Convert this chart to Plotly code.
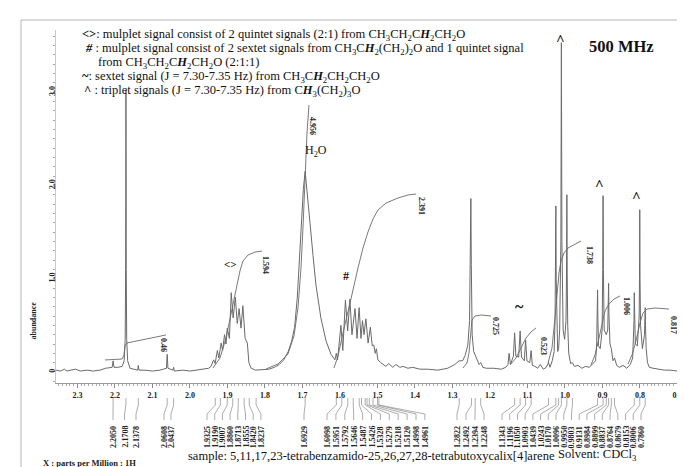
import plotly.graph_objects as go

# ---------------- data ----------------
SPEC_PPM = [
    2.357, 2.345, 2.335, 2.328, 2.318, 2.305, 2.292, 2.275, 2.258, 2.240, 2.225, 2.2075, 2.2050, 2.2025,
    2.192, 2.181, 2.1755, 2.1728, 2.1716, 2.1708, 2.1700, 2.1688, 2.1662, 2.160, 2.150, 2.1395, 2.1378,
    2.1360, 2.120, 2.100, 2.080, 2.0628, 2.0608, 2.0588, 2.0455, 2.0437, 2.0419, 2.020, 2.000, 1.980, 1.960,
    1.950, 1.944, 1.937, 1.933, 1.927, 1.923, 1.917, 1.913, 1.908, 1.904, 1.9005, 1.895, 1.890, 1.885,
    1.879, 1.874, 1.869, 1.864, 1.859, 1.853, 1.847, 1.843, 1.837, 1.825, 1.805,
    1.790, 1.775, 1.762, 1.750, 1.738, 1.729, 1.721, 1.714, 1.708, 1.7025, 1.6975, 1.6929, 1.6895, 1.6865,
    1.680, 1.672, 1.664, 1.651, 1.637, 1.624, 1.6135,
    1.6098, 1.6065, 1.5975, 1.5925, 1.5855, 1.5795, 1.5735, 1.568, 1.560, 1.5545, 1.549, 1.544, 1.540,
    1.536, 1.531, 1.525, 1.519, 1.514, 1.510, 1.506, 1.503, 1.499, 1.491,
    1.478, 1.470, 1.459, 1.451, 1.440, 1.432, 1.419, 1.406, 1.387, 1.366, 1.339, 1.313, 1.294, 1.2822,
    1.273, 1.266, 1.259, 1.2545, 1.2522, 1.2510, 1.2498, 1.2475, 1.2435, 1.2394, 1.2350, 1.229, 1.2248,
    1.219, 1.210, 1.190, 1.170, 1.158,
    1.152, 1.149, 1.1455, 1.1375, 1.1343, 1.131, 1.1235, 1.1196, 1.116, 1.1085, 1.1050, 1.1015, 1.094,
    1.0903, 1.087, 1.080, 1.073, 1.066, 1.058, 1.050, 1.0439, 1.040, 1.034, 1.029, 1.0265, 1.0252, 1.0243,
    1.0234, 1.0221, 1.0195, 1.0170, 1.0142, 1.0110, 1.0096, 1.0082, 1.0050, 1.0010, 0.9973, 0.9959, 0.9950,
    0.9941, 0.9927, 0.9900, 0.985, 0.9803, 0.975, 0.965, 0.955, 0.945, 0.935, 0.925,
    0.9185, 0.9155, 0.9140, 0.9131, 0.9122, 0.9105, 0.906, 0.9010, 0.8993, 0.8984, 0.8975, 0.8955, 0.8899,
    0.8860, 0.8846, 0.8837, 0.8828, 0.8800, 0.8764, 0.8720, 0.8679, 0.862, 0.855, 0.845, 0.835, 0.826,
    0.8195, 0.8168, 0.8160, 0.8153, 0.8146, 0.8125, 0.8070, 0.8022, 0.8013, 0.8006, 0.7999, 0.7985, 0.7935,
    0.7880, 0.7867, 0.7860, 0.7853, 0.7835, 0.7800, 0.775, 0.765, 0.750, 0.735, 0.720, 0.700, 0.680, 0.6613,
]
SPEC_ABUND = [
    0.02, 0.01, 0.03, 0.01, 0.02, 0.03, 0.01, 0.02, 0.01, 0.02, 0.04, 0.05, 0.12, 0.05,
    0.05, 0.06, 0.12, 0.35, 1.10, 3.02, 1.10, 0.35, 0.12, 0.04, 0.03, 0.02, 0.07,
    0.02, 0.02, 0.01, 0.02, 0.04, 0.19, 0.04, 0.02, 0.05, 0.01, 0.02, 0.01, 0.02, 0.03,
    0.04, 0.06, 0.13, 0.09, 0.23, 0.15, 0.31, 0.23, 0.40, 0.30, 0.47, 0.36, 0.85, 0.58,
    0.80, 0.52, 0.68, 0.47, 0.71, 0.36, 0.31, 0.10, 0.04, 0.02, 0.03,
    0.03, 0.05, 0.08, 0.13, 0.22, 0.33, 0.48, 0.79, 1.22, 1.65, 1.97, 2.15, 2.02, 1.86,
    1.60, 1.25, 0.93, 0.58, 0.33, 0.19, 0.13,
    0.20, 0.13, 0.50, 0.23, 0.77, 0.44, 0.78, 0.40, 0.68, 0.36, 0.69, 0.36, 0.55,
    0.40, 0.57, 0.31, 0.48, 0.28, 0.29, 0.20, 0.25, 0.13, 0.10,
    0.06, 0.09, 0.05, 0.08, 0.05, 0.06, 0.04, 0.05, 0.03, 0.03, 0.02, 0.04, 0.08, 0.12,
    0.12, 0.18, 0.29, 0.55, 1.15, 1.86, 1.15, 0.40, 0.22, 0.18, 0.12, 0.08, 0.10,
    0.05, 0.04, 0.04, 0.03, 0.05,
    0.08, 0.20, 0.08, 0.17, 0.42, 0.17, 0.16, 0.44, 0.16, 0.12, 0.34, 0.12, 0.10,
    0.23, 0.07, 0.06, 0.04, 0.08, 0.03, 0.05, 0.10, 0.05, 0.12, 0.22, 0.55, 1.00, 1.78,
    1.00, 0.50, 0.22, 0.25, 0.45, 1.40, 3.53, 1.40, 0.45, 0.35, 0.55, 1.05, 1.90,
    1.05, 0.50, 0.20, 0.09, 0.10, 0.06, 0.07, 0.04, 0.06, 0.05, 0.09,
    0.12, 0.30, 0.55, 0.88, 0.55, 0.28, 0.25, 0.45, 1.10, 1.89, 1.10, 0.45, 0.40,
    0.45, 0.62, 0.95, 0.62, 0.30, 0.25, 0.12, 0.15, 0.07, 0.05, 0.07, 0.04, 0.08,
    0.15, 0.35, 0.55, 0.85, 0.55, 0.30, 0.28, 0.60, 1.00, 1.74, 1.00, 0.50, 0.25,
    0.40, 0.50, 0.69, 0.50, 0.25, 0.10, 0.05, 0.04, 0.03, 0.02, 0.02, 0.01, 0.02, 0.01,
]

# integral curves
INT1_PPM = [2.2267, 2.1813, 2.176, 2.1733, 2.168, 2.064]
INT1_VAL = [0.129, 0.139, 0.182, 0.279, 0.311, 0.397]
INT2_PPM = [1.9387, 1.920, 1.904, 1.8933, 1.8827, 1.8747, 1.8667, 1.8587, 1.8453, 1.8267, 1.808]
INT2_VAL = [0.043, 0.150, 0.364, 0.579, 0.761, 0.922, 1.083, 1.190, 1.254, 1.286, 1.297]
INT3_PPM = [1.7973, 1.7653, 1.7387, 1.7227, 1.712, 1.704, 1.6987, 1.6933, 1.688, 1.6827]
INT3_VAL = [0.032, 0.086, 0.193, 0.386, 0.686, 1.115, 1.543, 2.079, 2.562, 2.862]
INT4_PPM = [1.616, 1.6053, 1.592, 1.5787, 1.5653, 1.552, 1.5387, 1.5253, 1.512, 1.4987, 1.4773, 1.4453, 1.4187, 1.3973]
INT4_VAL = [0.043, 0.171, 0.418, 0.665, 0.879, 1.115, 1.329, 1.501, 1.640, 1.736, 1.811, 1.865, 1.897, 1.908]
INT5_PPM = [1.272, 1.2613, 1.256, 1.252, 1.248, 1.240, 1.224, 1.1973]
INT5_VAL = [0.043, 0.096, 0.204, 0.418, 0.557, 0.600, 0.611, 0.600]
INT6_PPM = [1.144, 1.1307, 1.1173, 1.104, 1.0907, 1.0773]
INT6_VAL = [0.086, 0.150, 0.257, 0.364, 0.429, 0.472]
INT7_PPM = [1.0453, 1.0347, 1.0267, 1.0213, 1.016, 1.0107, 1.0027, 0.992, 0.9787, 0.9573]
INT7_VAL = [0.096, 0.257, 0.579, 0.847, 1.061, 1.190, 1.275, 1.329, 1.361, 1.404]
INT8_PPM = [0.9307, 0.920, 0.9093, 0.9013, 0.8933, 0.8827, 0.8693, 0.8533]
INT8_VAL = [0.075, 0.182, 0.364, 0.525, 0.654, 0.729, 0.782, 0.815]
INT9_PPM = [0.832, 0.8213, 0.8107, 0.800, 0.792, 0.7813, 0.760, 0.7227]
INT9_VAL = [0.086, 0.182, 0.332, 0.525, 0.632, 0.675, 0.686, 0.675]
INT_LABELS = ["0.46", "1.594", "4.956", "2.391", "0.725", "0.523", "1.738", "1.006", "0.817"]

PEAK_LABELS = [
    "2.2050", "2.1708", "2.1378", "2.0608", "2.0437",
    "1.9325", "1.9190", "1.9007", "1.8860", "1.8713", "1.8555", "1.8420", "1.8237",
    "1.6929",
    "1.6098", "1.5951", "1.5792", "1.5646", "1.5487", "1.5426", "1.5328", "1.5279", "1.5218", "1.5120",
    "1.4998", "1.4961",
    "1.2822", "1.2492", "1.2394", "1.2248",
    "1.1343", "1.1196", "1.1050", "1.0903", "1.0439", "1.0243", "1.0170", "1.0096", "0.9950", "0.9803",
    "0.9131", "0.8984", "0.8899", "0.8837", "0.8764", "0.8679", "0.8153", "0.8006", "0.7860",
]

X_TICKS = [2.3, 2.2, 2.1, 2.0, 1.9, 1.8, 1.7, 1.6, 1.5, 1.4, 1.3, 1.2, 1.1, 1.0, 0.9, 0.8, 0.7]
X_TICK_TEXT = ["2.3", "2.2", "2.1", "2.0", "1.9", "1.8", "1.7", "1.6", "1.5", "1.4", "1.3", "1.2",
               "1.1", "1.0", "0.9", "0.8", "0.7"]
Y_TICKS = [0, 1, 2, 3]
Y_TICK_TEXT = ["0", "1.0", "2.0", "3.0"]

# ---------------- layout helpers ----------------
W, H = 685, 467
ML, MR, MT, MB = 48, 1, 22, 92
PW, PH = W - ML - MR, H - MT - MB
XL, XR = 2.3573, 0.6613
YB, YT = -0.118, 3.666
FONT = "Liberation Serif"
LINE_C = "#6a6a6a"


def pxx(px):
    return (px - ML) / PW


def pyy(py):
    return (H - MB - py) / PH


def px_to_ppm(px):
    return XL - (px - ML) / PW * (XL - XR)


fig = go.Figure()
fig.add_trace(go.Scatter(x=SPEC_PPM, y=SPEC_ABUND, mode="lines",
                         line=dict(color=LINE_C, width=1), hoverinfo="skip"))

ints_ppm = [INT1_PPM, INT2_PPM, INT3_PPM, INT4_PPM, INT5_PPM, INT6_PPM, INT7_PPM, INT8_PPM, INT9_PPM]
ints_val = [INT1_VAL, INT2_VAL, INT3_VAL, INT4_VAL, INT5_VAL, INT6_VAL, INT7_VAL, INT8_VAL, INT9_VAL]
for xs, ys in zip(ints_ppm, ints_val):
    fig.add_trace(go.Scatter(x=xs, y=ys, mode="lines",
                             line=dict(color=LINE_C, width=0.9), hoverinfo="skip"))

annotations = []
shapes = []

# integral value labels (rotated), shifted from the end of each curve
INT_SHIFT = [(-3, -10), (4, -14), (4, -21), (6, -12), (5, -10), (7, -18), (9, -14), (6, -10), (5, -16)]
for xs, ys, lab, (dx, dy) in zip(ints_ppm, ints_val, INT_LABELS, INT_SHIFT):
    annotations.append(dict(x=xs[-1], y=ys[-1], xref="x", yref="y", text="<b>" + lab + "</b>",
                            textangle=90, showarrow=False, xshift=dx, yshift=dy,
                            font=dict(family=FONT, size=8, color="#222")))

# peak label groups: (count, first label pixel x, spacing)
GROUPS = [(3, 105, 11.5), (2, 156, 7), (8, 199, 7.7), (1, 296, 0), (12, 319, 8.9), (4, 449, 9), (19, 494, 7.72)]
label_px = []
for n, start, step in GROUPS:
    label_px += [start + i * step for i in range(n)]

for lab, lpx in zip(PEAK_LABELS, label_px):
    xp = float(lab)
    xl = px_to_ppm(lpx)
    path = "M {a},{b} L {a},{c} L {d},{e} L {d},{f}".format(
        a=xp, b=pyy(390), c=pyy(397), d=xl, e=pyy(406), f=pyy(412))
    shapes.append(dict(type="path", xref="x", yref="paper", path=path,
                       line=dict(color="#8a8a8a", width=0.7)))
    annotations.append(dict(x=xl, y=pyy(429), xref="x", yref="paper", text="<b>" + lab + "</b>",
                            textangle=-90, showarrow=False, xanchor="center", yanchor="middle",
                            font=dict(family=FONT, size=8, color="#222")))

# symbols on the spectrum
SYM = dict(family=FONT, color="#111")
annotations += [
    dict(x=1.8907, y=pyy(264), xref="x", yref="paper", text="<b>&lt;&gt;</b>", showarrow=False,
         font=dict(size=11, **SYM)),
    dict(x=1.664, y=pyy(143), xref="x", yref="paper", text="H<sub>2</sub>O", showarrow=False,
         font=dict(size=12, **SYM)),
    dict(x=1.584, y=pyy(277), xref="x", yref="paper", text="<b>#</b>", showarrow=False,
         font=dict(size=12, **SYM)),
    dict(x=1.120, y=pyy(309), xref="x", yref="paper", text="<b>~</b>", showarrow=False,
         font=dict(size=16, **SYM)),
    dict(x=1.0107, y=pyy(22), xref="x", yref="paper", text="<b>^</b>", showarrow=False,
         font=dict(size=15, **SYM)),
    dict(x=0.9067, y=pyy(177), xref="x", yref="paper", text="<b>^</b>", showarrow=False,
         font=dict(size=15, **SYM)),
    dict(x=0.808, y=pyy(189), xref="x", yref="paper", text="<b>^</b>", showarrow=False,
         font=dict(size=15, **SYM)),
]

# description lines at the top
B_H = "<b><i>H</i></b>"
LEG = [
    (72, 27, "<b>&lt;&gt;</b>: mulplet signal consist of 2 quintet signals (2:1) from "
             "CH<sub>3</sub>CH<sub>2</sub>C" + B_H + "<sub>2</sub>CH<sub>2</sub>O"),
    (75, 41, "<b><i>#</i></b> : mulplet signal consist of 2 sextet signals from CH<sub>3</sub>C" + B_H +
             "<sub>2</sub>(CH<sub>2</sub>)<sub>2</sub>O and 1 quintet signal"),
    (88, 55, "from CH<sub>3</sub>CH<sub>2</sub>C" + B_H + "<sub>2</sub>CH<sub>2</sub>O (2:1:1)"),
    (72, 69, "<b>~</b>: sextet signal (J = 7.30-7.35 Hz) from CH<sub>3</sub>C" + B_H +
             "<sub>2</sub>CH<sub>2</sub>CH<sub>2</sub>O"),
    (74, 83, "<b>^</b> : triplet signals (J = 7.30-7.35 Hz) from C" + B_H +
             "<sub>3</sub>(CH<sub>2</sub>)<sub>3</sub>O"),
]
for px, py, txt in LEG:
    annotations.append(dict(x=pxx(px), y=pyy(py), xref="paper", yref="paper", text=txt,
                            showarrow=False, xanchor="left", yanchor="middle",
                            font=dict(family=FONT, size=12.5, color="#111")))

annotations += [
    dict(x=pxx(648), y=pyy(27), xref="paper", yref="paper", text="<b>500 MHz</b>", showarrow=False,
         font=dict(family=FONT, size=16.5, color="#111")),
    dict(x=pxx(18), y=pyy(333), xref="paper", yref="paper", text="<b>abundance</b>", showarrow=False,
         textangle=-90, font=dict(family=FONT, size=8, color="#222")),
    dict(x=pxx(33), y=pyy(462), xref="paper", yref="paper", text="<b>X : parts per Million : 1H</b>",
         showarrow=False, xanchor="left", font=dict(family=FONT, size=8.5, color="#222")),
    dict(x=pxx(178), y=pyy(457), xref="paper", yref="paper",
         text="sample: 5,11,17,23-tetrabenzamido-25,26,27,28-tetrabutoxycalix[4]arene",
         showarrow=False, xanchor="left", font=dict(family=FONT, size=12.5, color="#111")),
    dict(x=pxx(548), y=pyy(457), xref="paper", yref="paper", text="Solvent: CDCl<sub>3</sub>",
         showarrow=False, xanchor="left", font=dict(family=FONT, size=12.5, color="#111")),
]

# outer frame
shapes.append(dict(type="rect", xref="paper", yref="paper", x0=pxx(13), x1=pxx(692), y0=pyy(475), y1=pyy(12),
                   line=dict(color="#b5b5b5", width=1), layer="below"))

fig.update_layout(
    width=W, height=H,
    margin=dict(l=ML, r=MR, t=MT, b=MB),
    paper_bgcolor="white", plot_bgcolor="white",
    showlegend=False,
    annotations=annotations, shapes=shapes,
    xaxis=dict(range=[XL, XR], tickmode="array", tickvals=X_TICKS,
               ticktext=["<b>" + t + "</b>" for t in X_TICK_TEXT],
               tickfont=dict(family=FONT, size=8, color="#222"),
               ticks="outside", ticklen=4, tickcolor="#888", tickwidth=0.8,
               showline=True, linecolor="#999", linewidth=0.8,
               showgrid=False, zeroline=False,
               minor=dict(tickmode="linear", tick0=0, dtick=0.01, ticks="outside", ticklen=2,
                          tickcolor="#aaa", tickwidth=0.6)),
    yaxis=dict(range=[YB, YT], tickmode="array", tickvals=Y_TICKS,
               ticktext=["<b>" + t + "</b>" for t in Y_TICK_TEXT], tickangle=-90,
               tickfont=dict(family=FONT, size=8, color="#222"),
               ticks="outside", ticklen=2, tickcolor="#999", tickwidth=0.8,
               ticklabelstandoff=-5,
               showline=True, linecolor="#c8c8c8", linewidth=0.6,
               showgrid=False, zeroline=False,
               minor=dict(tickmode="linear", tick0=0, dtick=0.1, ticks="outside", ticklen=2,
                          tickcolor="#aaa", tickwidth=0.6)),
)

fig.write_html("out.html", config={"displayModeBar": False})
